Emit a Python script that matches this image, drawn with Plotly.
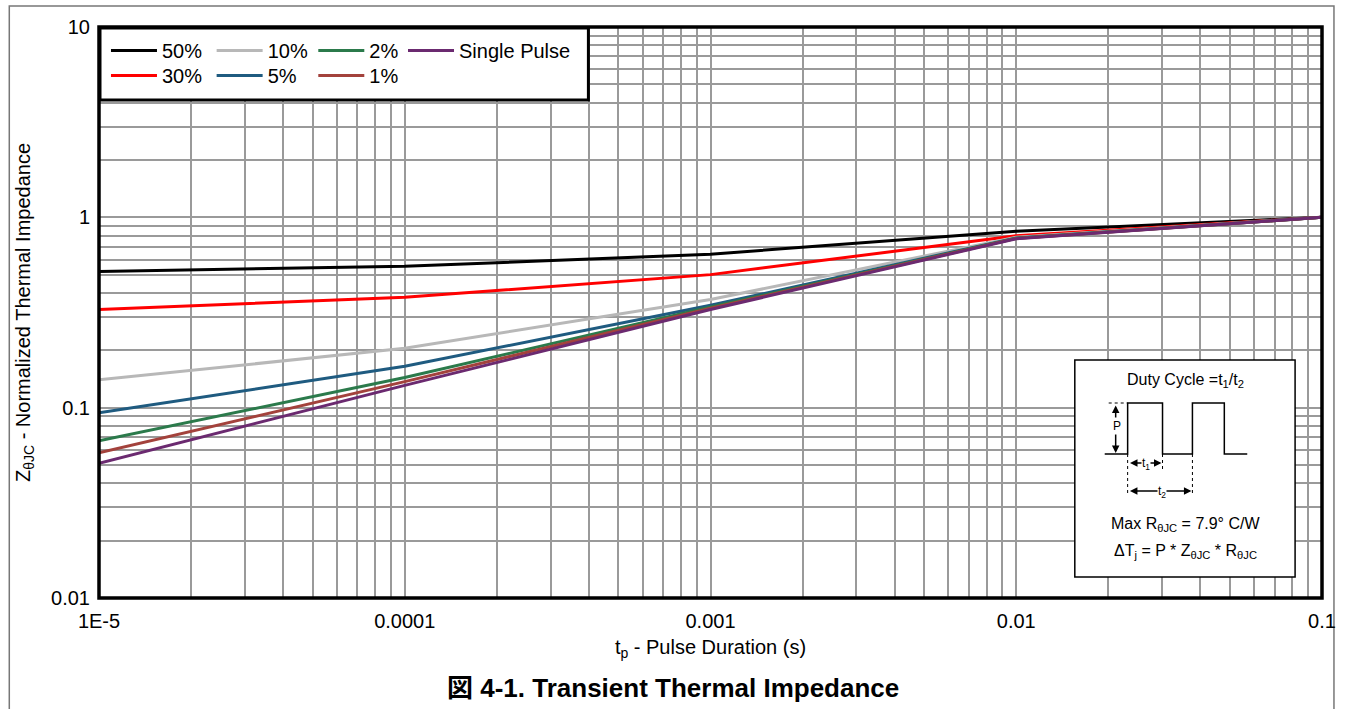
import plotly.graph_objects as go

# ---------------- data ----------------
tp = [1e-5, 1e-4, 1e-3, 1e-2, 1e-1]
series_names = ["50%", "30%", "10%", "5%", "2%", "1%", "Single Pulse"]
z50 = [0.52, 0.553, 0.64, 0.845, 1.0]
z30 = [0.328, 0.38, 0.50, 0.80, 1.0]
z10 = [0.14, 0.205, 0.37, 0.785, 1.0]
z5 = [0.094, 0.165, 0.345, 0.78, 1.0]
z2 = [0.067, 0.144, 0.338, 0.776, 1.0]
z1 = [0.058, 0.137, 0.333, 0.775, 1.0]
zsp = [0.051, 0.131, 0.328, 0.772, 1.0]
series_values = [z50, z30, z10, z5, z2, z1, zsp]
series_colors = ["#000000", "#ff0000", "#b8b8b8", "#1f5b80", "#2b7a4b", "#a3423c", "#6b2a70"]
legend_ids = ["legend", "legend2", "legend3", "legend4", "legend5", "legend6", "legend7"]

x_major = [1e-5, 1e-4, 1e-3, 1e-2, 1e-1]
x_major_text = ["1E-5", "0.0001", "0.001", "0.01", "0.1"]
y_major = [0.01, 0.1, 1, 10]
y_major_text = ["0.01", "0.1", "1", "10"]

# ---------------- geometry ----------------
W, H = 1348, 709
L, R, T, B = 99, 1326, 27, 598


def px(x):
    return (x - L) / (R - L)


def py(y):
    return (B - y) / (B - T)


def build_ticks(majors, labels):
    vals, texts = [], []
    for i, m in enumerate(majors):
        vals.append(m)
        texts.append(labels[i])
        if i < len(majors) - 1:
            for k in range(2, 10):
                vals.append(m * k)
                texts.append("")
    return vals, texts


xv, xt = build_ticks(x_major, x_major_text)
yv, yt = build_ticks(y_major, y_major_text)

FONT = "Liberation Sans, Arial, Noto Sans CJK JP, sans-serif"

fig = go.Figure()
for name, vals, col, lg in zip(series_names, series_values, series_colors, legend_ids):
    fig.add_trace(go.Scatter(x=tp, y=vals, mode="lines", name=name,
                             line=dict(color=col, width=3), legend=lg))

shapes = []
annotations = []

# outer frame of the figure
shapes.append(dict(type="rect", xref="paper", yref="paper",
                   x0=px(9), x1=px(1338), y0=py(6), y1=py(720),
                   line=dict(color="#777777", width=1.5), layer="below"))
# plot border
shapes.append(dict(type="rect", xref="paper", yref="paper",
                   x0=0, x1=1, y0=0, y1=1,
                   line=dict(color="black", width=3.5), layer="above"))
# legend box
shapes.append(dict(type="rect", xref="paper", yref="paper",
                   x0=px(100), x1=px(590), y0=py(28), y1=py(100),
                   line=dict(color="black", width=3), fillcolor="white", layer="above"))

# inset box
shapes.append(dict(type="rect", xref="paper", yref="paper",
                   x0=px(1078), x1=px(1299), y0=py(360), y1=py(577),
                   line=dict(color="black", width=1.5), fillcolor="white", layer="above"))

# waveform
wave = [(1108, 454), (1131, 454), (1131, 403), (1166, 403), (1166, 454),
        (1196, 454), (1196, 403), (1228, 403), (1228, 454), (1251, 454)]
path = "M " + " L ".join(f"{px(a):.5f},{py(b):.5f}" for a, b in wave)
shapes.append(dict(type="path", xref="paper", yref="paper", path=path,
                   line=dict(color="black", width=1.5), layer="above"))

dotted = [((1112, 403), (1131, 403)), ((1131, 454), (1131, 495)),
          ((1166, 454), (1166, 470)), ((1196, 454), (1196, 495))]
for (a0, b0), (a1, b1) in dotted:
    shapes.append(dict(type="line", xref="paper", yref="paper",
                       x0=px(a0), y0=py(b0), x1=px(a1), y1=py(b1),
                       line=dict(color="black", width=1, dash="dot"), layer="above"))


def dbl_arrow(x0, y0, x1, y1):
    annotations.append(dict(xref="paper", yref="paper", x=px(x1), y=py(y1),
                            axref="pixel", ayref="pixel", ax=x0 - x1, ay=y0 - y1,
                            text="", showarrow=True, arrowhead=2, arrowside="end+start",
                            arrowsize=1, arrowwidth=1.5, arrowcolor="black"))


dbl_arrow(1119, 404, 1119, 453)
dbl_arrow(1132, 463, 1165, 463)
dbl_arrow(1132, 491, 1195, 491)


def text_at(x, y, text, font, **kw):
    annotations.append(dict(xref="paper", yref="paper", x=px(x), y=py(y), text=text,
                            showarrow=False, font=font, xanchor="center", yanchor="middle", **kw))


small = dict(family=FONT, size=12, color="black")
text_at(1120, 426, "P", small, bgcolor="white")
text_at(1149, 464, "t<sub>1</sub>", small, bgcolor="white", borderpad=0)
text_at(1165, 492, "t<sub>2</sub>", small, bgcolor="white", borderpad=0)

inset_font = dict(family=FONT, size=16, color="black")
text_at(1189, 380, "Duty Cycle =t<sub>1</sub>/t<sub>2</sub>", inset_font)
text_at(1189, 524, "Max R<sub>θJC</sub> = 7.9° C/W", inset_font)
text_at(1189, 551, "ΔT<sub>j</sub> = P * Z<sub>θJC</sub> * R<sub>θJC</sub>", inset_font)

# caption
text_at(675, 688, "<b>図 4-1. Transient Thermal Impedance</b>",
        dict(family=FONT, size=26, color="black"))

legend_font = dict(family=FONT, size=20, color="black")


def legend_at(xpix, ypix):
    return dict(orientation="v", x=px(xpix), y=py(ypix), xanchor="left", yanchor="top",
                bgcolor="rgba(0,0,0,0)", borderwidth=0, font=legend_font,
                itemwidth=46, tracegroupgap=0)


col_x = [106, 106, 212, 212, 314, 314, 404]
row_y = [31, 56, 31, 56, 31, 56, 31]
legend_layout = {lid: legend_at(cx, ry) for lid, cx, ry in zip(legend_ids, col_x, row_y)}

grid_col = "#9a9a9a"
fig.update_layout(
    width=W, height=H,
    margin=dict(l=L, r=W - R, t=T, b=H - B),
    paper_bgcolor="white", plot_bgcolor="white",
    font=dict(family=FONT, size=20, color="black"),
    showlegend=True,
    xaxis=dict(type="log", range=[-5, -1], tickmode="array", tickvals=xv, ticktext=xt,
               showgrid=True, gridcolor=grid_col, gridwidth=1.5, zeroline=False,
               showline=False, ticks="", tickfont=dict(size=20), ticklabelstandoff=9,
               title=dict(text="t<sub>p</sub> - Pulse Duration (s)", font=dict(size=20), standoff=8)),
    yaxis=dict(type="log", range=[-2, 1], tickmode="array", tickvals=yv, ticktext=yt,
               showgrid=True, gridcolor=grid_col, gridwidth=1.5, zeroline=False,
               showline=False, ticks="", tickfont=dict(size=20), ticklabelstandoff=8,
               title=dict(text="Z<sub>θJC</sub> - Normalized Thermal Impedance", font=dict(size=20), standoff=15)),
    shapes=shapes,
    annotations=annotations,
    **legend_layout,
)

fig.write_html("out.html")
